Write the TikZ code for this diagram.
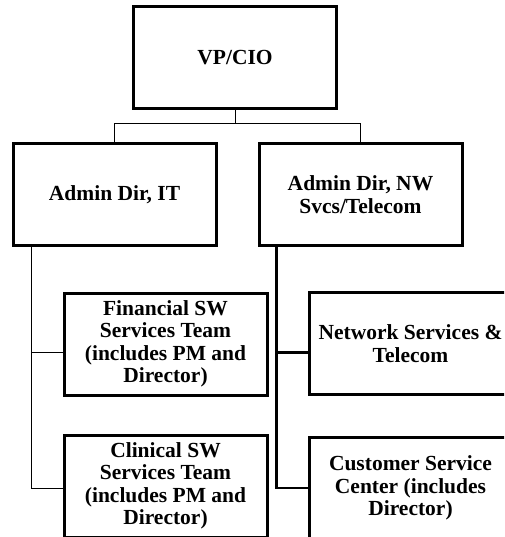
\documentclass[tikz,border=0pt]{standalone}
\usepackage{fontspec}
\setmainfont{Liberation Serif}
\usetikzlibrary{positioning}

\begin{document}
\begin{tikzpicture}[x=1pt, y=-1pt,
    box/.style = {draw, line width=3pt, rectangle, minimum width=203pt, minimum height=102pt,
                  align=center, inner sep=0pt, font=\fontsize{21.5}{22.5}\selectfont\bfseries},
    thin/.style = {line width=1pt},
    heavy/.style = {line width=2.6pt}]
    \clip (0,0) rectangle (504,537);
    \useasboundingbox (0,0) rectangle (504,537);
    % boxes
    \node[box] (vp) at (235,58) {VP/CIO};
    \node[box] (it) at (114.5,194.5) {Admin Dir, IT};
    \node[box] (nw) at (360.5,194.5) {Admin Dir, NW\\Svcs/Telecom};
    \node[box] (fin) at (165.5,344) {Financial SW\\Services Team\\(includes PM and\\Director)};
    \node[box] (cli) at (165.5,486) {Clinical SW\\Services Team\\(includes PM and\\Director)};
    \node[box] (net) at (410.5,343.5) {Network Services \&\\Telecom};
    \node[box] (cus) at (410.5,488) {Customer Service\\Center (includes\\Director)};
    % connectors
    \draw[thin] (vp.south) -- ++(0,13) -| (it.north);
    \draw[thin] (vp.south) -- ++(0,13) -| (nw.north);
    \coordinate (itline) at ([xshift=20pt]it.south west);
    \coordinate (nwline) at ([xshift=19pt]nw.south west);
    \draw[thin] (itline) |- ([yshift=-8pt]fin.west);
    \draw[thin] (itline) |- ([yshift=-2pt]cli.west);
    \draw[heavy] (nwline) |- ([yshift=-9pt]net.west);
    \draw[heavy] (nwline) |- (cus.west);
\end{tikzpicture}
\end{document}
